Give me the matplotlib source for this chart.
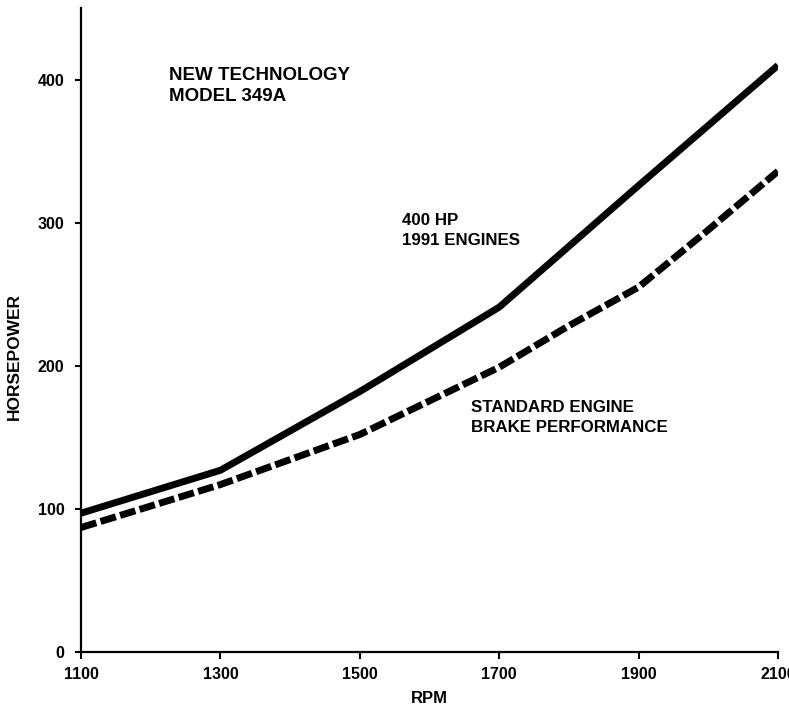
import matplotlib
matplotlib.use("Agg")
import matplotlib.pyplot as plt

plt.rcParams["font.family"] = ["Liberation Sans", "DejaVu Sans"]
plt.rcParams["font.weight"] = "bold"
plt.rcParams["lines.scale_dashes"] = False

# 1991 engines (solid) vs standard engine brake performance (dashed)
rpm_new = [1100, 1300, 1500, 1700, 1900, 2100]
hp_new = [97, 127, 182, 241, 326, 410]

rpm_std = [1100, 1300, 1500, 1700, 1800, 1900, 2000, 2100]
hp_std = [87, 117, 152, 199, 228, 255, 295, 336]

x_ticks = [1100, 1300, 1500, 1700, 1900, 2100]
y_ticks = [0, 100, 200, 300, 400]


def main():
    fig = plt.figure(figsize=(7.89, 7.06), dpi=100)
    ax = fig.add_axes([0.1027, 0.0765, 0.8833, 0.912])

    ax.plot(rpm_new, hp_new, color="black", lw=5.0, solid_capstyle="butt",
            solid_joinstyle="miter")
    ax.plot(rpm_std, hp_std, color="black", lw=5.0, dashes=(11.5, 3.2),
            dash_capstyle="butt", dash_joinstyle="miter")

    ax.set_xlim(1100, 2100)
    ax.set_ylim(0, 450)
    ax.set_xticks(x_ticks)
    ax.set_yticks(y_ticks)
    ax.tick_params(axis="both", labelsize=11.5, width=1.5, color="black")
    ax.tick_params(axis="x", length=5, pad=6)
    ax.tick_params(axis="y", length=4, pad=8)
    for lbl in ax.get_xticklabels() + ax.get_yticklabels():
        lbl.set_fontweight("bold")

    for side in ("top", "right"):
        ax.spines[side].set_visible(False)
    for side in ("left", "bottom"):
        ax.spines[side].set_linewidth(1.6)

    ax.set_xlabel("RPM", fontsize=12, fontweight="bold", labelpad=6)
    fig.text(14 / 789, 1 - 357 / 706, "HORSEPOWER", fontsize=12.5,
             fontweight="bold", rotation=90, ha="center", va="center")

    ax.text(1226, 408.5, "NEW TECHNOLOGY\nMODEL 349A", fontsize=13.5,
            fontweight="bold", va="top", ha="left", linespacing=1.3)
    ax.text(1561, 307, "400 HP\n1991 ENGINES", fontsize=12.2,
            fontweight="bold", va="top", ha="left", linespacing=1.4)
    ax.text(1660, 176, "STANDARD ENGINE\nBRAKE PERFORMANCE", fontsize=12.2,
            fontweight="bold", va="top", ha="left", linespacing=1.4)

    fig.savefig("out.png", dpi=100)
    plt.close(fig)


if __name__ == "__main__":
    main()
